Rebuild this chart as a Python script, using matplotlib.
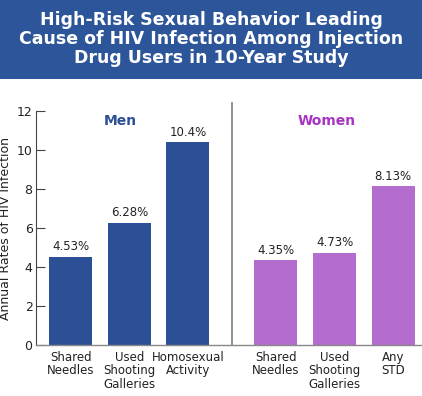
import matplotlib
matplotlib.use("Agg")
import matplotlib.pyplot as plt
from matplotlib.patches import Rectangle

# data
categories = [
    "Shared\nNeedles", "Used\nShooting\nGalleries", "Homosexual\nActivity",
    "Shared\nNeedles", "Used\nShooting\nGalleries", "Any\nSTD",
]
groups = ["Men", "Men", "Men", "Women", "Women", "Women"]
rates = [4.53, 6.28, 10.4, 4.35, 4.73, 8.13]
rate_labels = ["4.53%", "6.28%", "10.4%", "4.35%", "4.73%", "8.13%"]
yticks = [0, 2, 4, 6, 8, 10, 12]

title = ("High-Risk Sexual Behavior Leading\n"
         "Cause of HIV Infection Among Injection\n"
         "Drug Users in 10-Year Study")

BLUE = "#2c5096"
PURPLE = "#b56ccf"
PURPLE_TXT = "#a834c2"
HEADER = "#2d5599"

W, H = 422, 396
fig = plt.figure(figsize=(W / 100, H / 100), dpi=100)

# header band
fig.patches.append(Rectangle((0, 1 - 79 / H), 1, 79 / H, transform=fig.transFigure,
                             facecolor=HEADER, edgecolor="none", zorder=0))
fig.text(0.5, 1 - 39 / H, title, ha="center", va="center", color="white",
         fontsize=12.5, fontweight="bold", family="DejaVu Sans", linespacing=1.08)

ax = fig.add_axes([36 / W, 51 / H, (W - 36) / W, 234 / H])

# bar slots: men 0..2, women shifted by half a slot
pos = [0, 1, 2, 3.5, 4.5, 5.5]
colors = [BLUE if g == "Men" else PURPLE for g in groups]
bars = ax.bar(pos, rates, width=0.735, color=colors, zorder=2)

for b, lab in zip(bars, rate_labels):
    ax.annotate(lab, (b.get_x() + b.get_width() / 2, b.get_height()),
                xytext=(0, 2.5), textcoords="offset points", ha="center", va="bottom",
                fontsize=8.5, color="#222222")

ax.set_xlim(-0.59, 5.99)
ax.set_ylim(0, 12)
ax.set_yticks(yticks)
ax.set_xticks(pos)
ax.set_xticklabels(categories, fontsize=8.5, linespacing=1.05, color="#222222")
ax.tick_params(axis="x", length=0, pad=4)
ax.tick_params(axis="y", direction="in", length=6.5, width=0.8, color="#444444",
               labelsize=9, pad=2.5, labelcolor="#222222")

for s in ["top", "right"]:
    ax.spines[s].set_visible(False)
ax.spines["left"].set_color("#444444")
ax.spines["left"].set_linewidth(0.8)
ax.spines["bottom"].set_color("#888888")
ax.spines["bottom"].set_linewidth(1.0)

# divider between the two groups
ax.axvline(2.75, ymin=0, ymax=1.034, color="#888888", lw=1.3, clip_on=False)

ax.text(0.85, 11.5, "Men", ha="center", va="center", color=BLUE,
        fontsize=10, fontweight="bold")
ax.text(4.37, 11.5, "Women", ha="center", va="center", color=PURPLE_TXT,
        fontsize=10, fontweight="bold")

ax.set_ylabel("Annual Rates of HIV Infection", fontsize=9, color="#222222")
ax.yaxis.set_label_coords(-0.062, 0.5)

fig.savefig("out.png", dpi=100)
